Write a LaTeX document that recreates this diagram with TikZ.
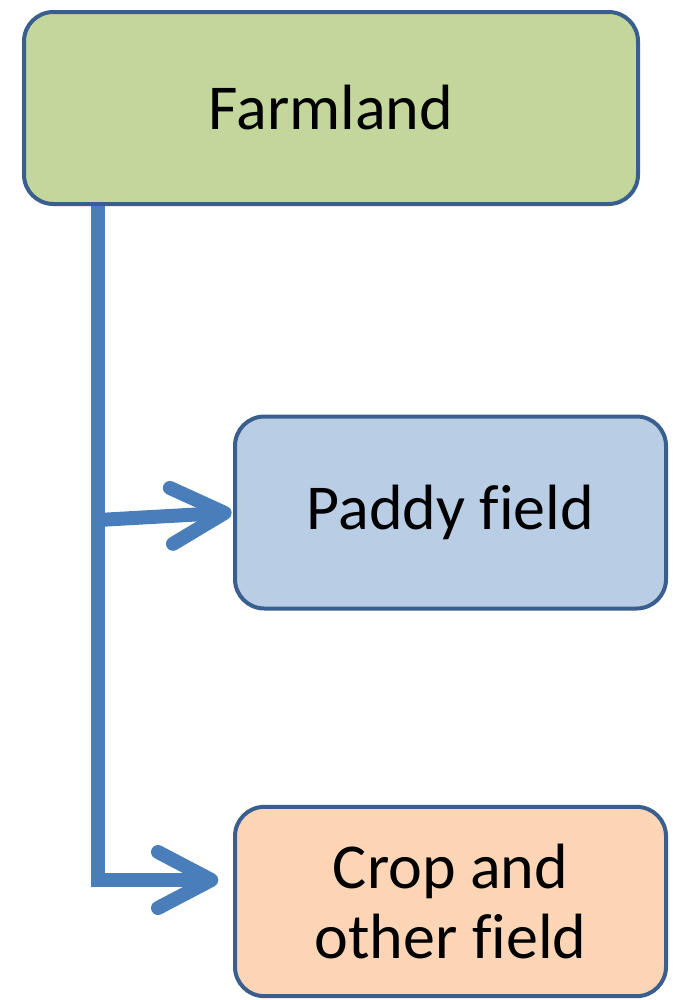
\documentclass[tikz,border=0pt]{standalone}
\usepackage{fontspec}
\setmainfont{Carlito}[Ligatures=CommonOff]
\usetikzlibrary{arrows.meta,positioning}

\definecolor{boxline}{HTML}{3A5F8F}
\definecolor{linkblue}{HTML}{4A7EBB}
\definecolor{farmgreen}{HTML}{C3D69B}
\definecolor{paddyblue}{HTML}{B9CDE5}
\definecolor{croppeach}{HTML}{FBD5B5}

\begin{document}
\begin{tikzpicture}[x=0.75pt,y=-0.75pt,node distance=291.75pt,on grid,
  box/.style={draw=boxline,line width=3pt,rounded corners=22pt,align=center,
    minimum height=144pt,font=\fontsize{48}{52.5}\selectfont},
  link/.style={draw=linkblue,line width=10.5pt,
    -{Straight Barb[length=40pt,width=42pt,round]}}]
 \useasboundingbox (0,0) rectangle (677,1000);

 \node[box,fill=farmgreen,minimum width=460.5pt] (farmland) at (331,108) {Farmland};
 \node[box,fill=paddyblue,minimum width=323.25pt] (paddy) at (450.5,512.5) {Paddy field};
 \node[box,fill=croppeach,minimum width=323.25pt,minimum height=142pt] (crop) [below=of paddy] {Crop and\\other field};

 \coordinate (stem) at (98,206);
 \coordinate (branch) at (98,520);
 \coordinate (bend) at (98,880);

 \draw[link] (stem) -- (bend) -- ([xshift=-11pt]bend -| crop.west);
 \draw[link] (branch) -- ([xshift=-1pt]paddy.west);
\end{tikzpicture}
\end{document}
